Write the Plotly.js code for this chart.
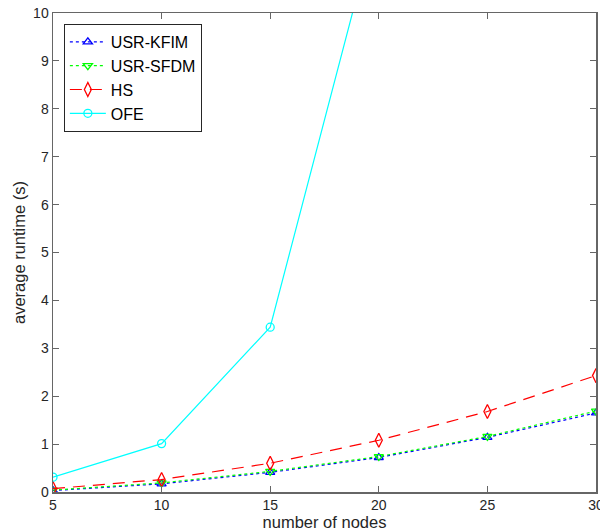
<!DOCTYPE html>
<html><head><meta charset="utf-8">
<script src="https://cdn.plot.ly/plotly-3.0.1.min.js"></script>
<style>html,body{margin:0;padding:0;background:#fff}</style>
</head><body>
<div id="chart" style="width:600px;height:531px"></div>
<script>
const nodes = [5, 10, 15, 20, 25, 30];
const ofeNodes = [5, 10, 15, 20];
const usrKfim = [0.03, 0.17, 0.41, 0.72, 1.14, 1.65];
const usrSfdm = [0.04, 0.19, 0.43, 0.74, 1.16, 1.69];
const hs = [0.07, 0.26, 0.60, 1.08, 1.68, 2.43];
const ofe = [0.31, 1.01, 3.44, 12.1];
const xTicks = [5, 10, 15, 20, 25, 30];
const yTicks = [0, 1, 2, 3, 4, 5, 6, 7, 8, 9, 10];

const FONT = 'Liberation Sans, Arial, sans-serif';

const traces = [
  {x: nodes, y: usrKfim, name: 'USR-KFIM', mode: 'lines+markers',
   line: {color: '#0000ff', dash: 'dot', width: 1.2},
   marker: {symbol: 'triangle-up-open', size: 8, color: '#0000ff', line: {width: 1.3}}},
  {x: nodes, y: usrSfdm, name: 'USR-SFDM', mode: 'lines+markers',
   line: {color: '#00ff00', dash: 'dot', width: 1.2},
   marker: {symbol: 'triangle-down-open', size: 8, color: '#00ff00', line: {width: 1.3}}},
  {x: nodes, y: hs, name: 'HS', mode: 'lines+markers',
   line: {color: '#ff0000', dash: '12px,8px', width: 1.2},
   marker: {symbol: 'diamond-tall-open', size: 10, color: '#ff0000', line: {width: 1.3}}},
  {x: ofeNodes, y: ofe, name: 'OFE', mode: 'lines+markers',
   line: {color: '#00ffff', width: 1.2},
   marker: {symbol: 'circle-open', size: 8, color: '#00ffff', line: {width: 1.3}}}
];

const axisCommon = {
  showline: true, linecolor: '#666', linewidth: 1.5, mirror: 'ticks',
  ticks: 'inside', ticklen: 6, tickcolor: '#666', tickwidth: 1,
  showgrid: false, zeroline: false, ticklabeloverflow: 'allow',
  tickfont: {family: FONT, size: 14, color: '#262626'}
};

const layout = {
  width: 600, height: 531,
  margin: {l: 53, r: 4, t: 13, b: 39},
  paper_bgcolor: '#fff', plot_bgcolor: '#fff',
  showlegend: true,
  xaxis: Object.assign({}, axisCommon, {
    range: [5, 30], tickvals: xTicks, ticktext: xTicks.map(String),
    title: {text: 'number of nodes', standoff: 0,
      font: {family: FONT, size: 16.5, color: '#262626'}}
  }),
  yaxis: Object.assign({}, axisCommon, {
    range: [0, 10], tickvals: yTicks, ticktext: yTicks.map(String),
    title: {text: 'average runtime (s)', standoff: 3,
      font: {family: FONT, size: 16.5, color: '#262626'}}
  }),
  legend: {
    x: 0.02, y: 0.977, xanchor: 'left', yanchor: 'top',
    bgcolor: '#fff', bordercolor: '#262626', borderwidth: 1,
    font: {family: FONT, size: 16, color: '#000'},
    tracegroupgap: 0, itemwidth: 36
  }
};

Plotly.newPlot('chart', traces, layout, {displayModeBar: false, staticPlot: true});
</script>
</body></html>
